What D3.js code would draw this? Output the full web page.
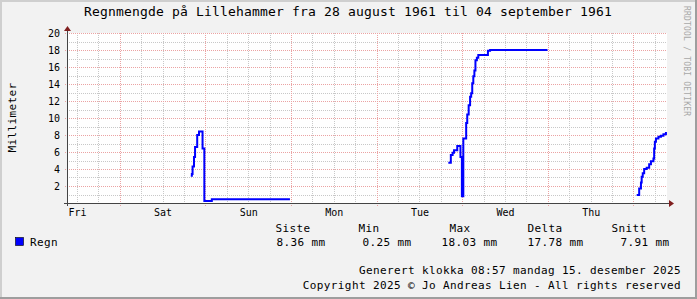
<!DOCTYPE html>
<html>
<head>
<meta charset="utf-8">
<script src="https://cdn.jsdelivr.net/npm/d3@7"></script>
<style>
body { margin: 0; background: #f2f2f2; }
svg { display: block; }
text { font-family: "DejaVu Sans Mono", monospace; fill: #000; }
</style>
</head>
<body>
<script>
// x in hours, 0 = start of "Fri"
var dayLabels = ["Fri", "Sat", "Sun", "Mon", "Tue", "Wed", "Thu"];
var dayTicks = [0, 24, 48, 72, 96, 120, 144];
var yLabels = [2, 4, 6, 8, 10, 12, 14, 16, 18, 20];

// rain (mm), null = no data
var regnTimer = [31.9, 32.2, 32.4, 32.8, 33.1, 33.7, 34.2, 35.2, 35.7, 37.8, 59.7, null,
    104.1, 104.8, 105.3, 105.7, 106.6, 107.5, 107.9, 108.3, 109.1, 109.4, 109.8, 110.2,
    110.5, 110.8, 111.1, 111.4, 111.7, 112.1, 112.5, 115.2, 115.8, 131.9, null,
    156.9, 157.6, 158.1, 158.3, 158.6, 159.0, 159.7, 160.4, 160.9, 161.6, 161.8, 162.0,
    162.3, 163.0, 163.7, 164.4, 165.1];
var regnVerdi = [3.2, 3.4, 4.3, 5.4, 6.6, 8.0, 8.4, 6.4, 0.25, 0.45, 0.45, null,
    4.75, 5.65, 5.9, 6.2, 6.7, 5.4, 0.8, 7.6, 9.4, 10.4, 11.5, 12.5,
    12.9, 14.1, 14.9, 15.6, 16.8, 17.1, 17.4, 17.9, 18.0, 18.0, null,
    0.95, 1.7, 2.4, 3.1, 3.5, 4.0, 4.15, 4.55, 4.9, 5.25, 6.4, 7.2,
    7.6, 7.8, 7.9, 8.1, 8.36, 8.36];

var legendHeads = ["Siste", "Min", "Max", "Delta", "Snitt"];
var legendValues = ["8.36 mm", "0.25 mm", "18.03 mm", "17.78 mm", "7.91 mm"];

var w = 697, h = 299;
var pLeft = 67, pRight = 667, pTop = 33, pBottom = 203;

var svg = d3.select("body").append("svg")
    .attr("width", w)
    .attr("height", h);

// frame
svg.append("rect").attr("width", w).attr("height", h).attr("fill", "#f2f2f2");
svg.append("path").attr("d", "M0,0H697V2H2V299H0Z").attr("fill", "#cfcfcf");
svg.append("path").attr("d", "M697,0V299H0V297H695V0Z").attr("fill", "#9e9e9e");

var x = d3.scaleLinear().domain([-2.8, 165.4]).range([pLeft, pRight]);
var y = d3.scaleLinear().domain([0, 20]).range([pBottom, pTop]);

svg.append("rect")
    .attr("x", pLeft).attr("y", pTop)
    .attr("width", pRight - pLeft).attr("height", pBottom - pTop)
    .attr("fill", "#fff");

var grid = svg.append("g").attr("shape-rendering", "crispEdges");

var minorX = d3.range(0, 166, 6).filter(function (d) { return (d - 12) % 24 !== 0; });
var majorX = d3.range(12, 166, 24);
var minorY = d3.range(1, 21).filter(function (d) { return d % 2 !== 0; });
var majorY = d3.range(2, 21, 2);

grid.selectAll(".vmin").data(minorX).enter().append("line")
    .attr("x1", function (d) { return Math.round(x(d)) + 0.5; })
    .attr("x2", function (d) { return Math.round(x(d)) + 0.5; })
    .attr("y1", pTop).attr("y2", pBottom)
    .attr("stroke", "#c8c8c8").attr("stroke-dasharray", "1,1");
grid.selectAll(".hmin").data(minorY).enter().append("line")
    .attr("x1", pLeft).attr("x2", pRight)
    .attr("y1", function (d) { return Math.round(y(d)) + 0.5; })
    .attr("y2", function (d) { return Math.round(y(d)) + 0.5; })
    .attr("stroke", "#c8c8c8").attr("stroke-dasharray", "1,1");
grid.selectAll(".vmaj").data(majorX).enter().append("line")
    .attr("x1", function (d) { return Math.round(x(d)) + 0.5; })
    .attr("x2", function (d) { return Math.round(x(d)) + 0.5; })
    .attr("y1", pTop).attr("y2", pBottom + 3)
    .attr("stroke", "#eba3a3").attr("stroke-dasharray", "1,1");
grid.selectAll(".hmaj").data(majorY).enter().append("line")
    .attr("x1", pLeft - 2).attr("x2", pRight)
    .attr("y1", function (d) { return Math.round(y(d)) + 0.5; })
    .attr("y2", function (d) { return Math.round(y(d)) + 0.5; })
    .attr("stroke", "#eba3a3").attr("stroke-dasharray", "1,1");

// data
var pts = regnTimer.map(function (t, i) { return [t, regnVerdi[i]]; });
var line = d3.line()
    .defined(function (d) { return d[0] !== null && d[1] !== null; })
    .x(function (d) { return x(d[0]); })
    .y(function (d) { return y(d[1]); })
    .curve(d3.curveStepAfter);
svg.append("path")
    .datum(pts)
    .attr("d", line)
    .attr("fill", "none")
    .attr("stroke", "#0000ff")
    .attr("stroke-width", 2);

// axes
var axisG = svg.append("g").attr("shape-rendering", "crispEdges");
axisG.append("line").attr("x1", pLeft - 3).attr("x2", pRight + 3)
    .attr("y1", pBottom + 0.5).attr("y2", pBottom + 0.5).attr("stroke", "#444");
axisG.append("line").attr("x1", pLeft + 0.5).attr("x2", pLeft + 0.5)
    .attr("y1", pBottom + 3).attr("y2", pTop - 3).attr("stroke", "#444");
svg.append("path").attr("d", "M" + (pRight + 2) + "," + (pBottom - 3) + "L" + (pRight + 7) + "," + (pBottom + 0.5) + "L" + (pRight + 2) + "," + (pBottom + 4) + "Z")
    .attr("fill", "#801f1f");
svg.append("path").attr("d", "M" + (pLeft - 3) + "," + (pTop - 2) + "L" + (pLeft + 0.5) + "," + (pTop - 7) + "L" + (pLeft + 4) + "," + (pTop - 2) + "Z")
    .attr("fill", "#801f1f");

var yAxis = d3.axisLeft(y).tickValues(yLabels).tickSize(0).tickPadding(7);
var gy = svg.append("g").attr("transform", "translate(" + pLeft + ",0)").call(yAxis);
gy.select(".domain").remove();
gy.selectAll("text").style("font-family", "DejaVu Sans Mono").style("font-size", "10px").attr("fill", "#000");

var xAxis = d3.axisBottom(x).tickValues(dayTicks)
    .tickFormat(function (d, i) { return dayLabels[i]; })
    .tickSize(0).tickPadding(5.5);
var gx = svg.append("g").attr("transform", "translate(0," + pBottom + ")").call(xAxis);
gx.select(".domain").remove();
gx.selectAll("text").style("font-family", "DejaVu Sans Mono").style("font-size", "10px").attr("fill", "#000");

// texts
svg.append("text")
    .attr("x", 348).attr("y", 16)
    .attr("text-anchor", "middle")
    .style("font-size", "13px").style("letter-spacing", "0.17px")
    .text("Regnmengde på Lillehammer fra 28 august 1961 til 04 september 1961");

svg.append("text")
    .attr("transform", "translate(15.5,117.5) rotate(-90)")
    .attr("text-anchor", "middle")
    .style("font-size", "11px").style("letter-spacing", "0.38px")
    .text("Millimeter");

svg.append("text")
    .attr("transform", "translate(684,6) rotate(90)")
    .style("font-size", "8px").style("letter-spacing", "0.2px")
    .style("fill", "#a8a8a8")
    .text("RRDTOOL / TOBI OETIKER");

var headX = [275.5, 358.5, 449.5, 527.5, 611.5];
var valEnd = [325.5, 411.5, 497.5, 583.5, 669.5];

svg.selectAll(".lh").data(legendHeads).enter().append("text")
    .attr("x", function (d, i) { return headX[i]; })
    .attr("y", 232)
    .style("font-size", "11px").style("letter-spacing", "0.38px")
    .text(function (d) { return d; });

svg.selectAll(".lv").data(legendValues).enter().append("text")
    .attr("x", function (d, i) { return valEnd[i]; })
    .attr("y", 246)
    .attr("text-anchor", "end")
    .style("font-size", "11px").style("letter-spacing", "0.38px")
    .text(function (d) { return d; });

svg.append("rect").attr("x", 15.5).attr("y", 237.5).attr("width", 8).attr("height", 8)
    .attr("fill", "#0000ff").attr("stroke", "#000").attr("stroke-width", 0.6);
svg.append("text").attr("x", 30).attr("y", 246)
    .style("font-size", "11px").style("letter-spacing", "0.38px")
    .text("Regn");

svg.append("text").attr("x", 681).attr("y", 274).attr("text-anchor", "end")
    .style("font-size", "11px").style("letter-spacing", "0.38px")
    .text("Generert klokka 08:57 mandag 15. desember 2025");
svg.append("text").attr("x", 681).attr("y", 289).attr("text-anchor", "end")
    .style("font-size", "11px").style("letter-spacing", "0.38px")
    .text("Copyright 2025 © Jo Andreas Lien - All rights reserved");
</script>
</body>
</html>
